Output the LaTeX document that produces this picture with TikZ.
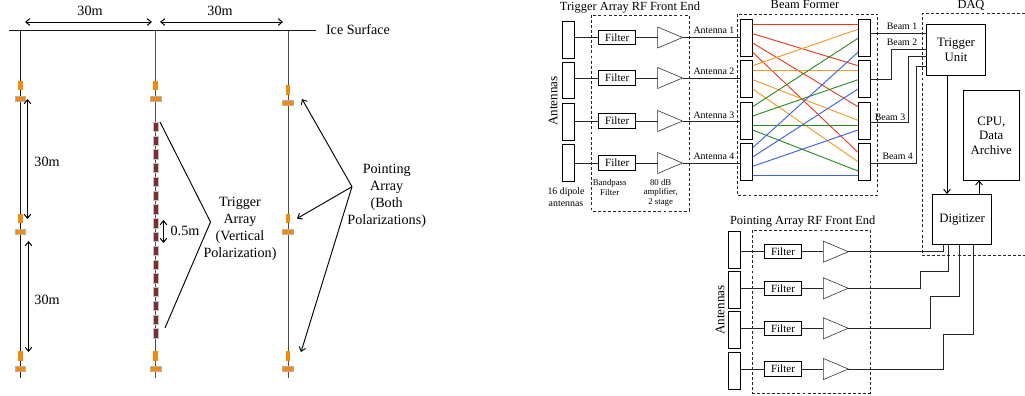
\documentclass[tikz,border=0pt]{standalone}
\usepackage{fontspec}
\setmainfont{Liberation Serif}
\usetikzlibrary{arrows.meta,shapes.geometric}
\definecolor{orangeant}{HTML}{F28A0C}
\definecolor{maroonant}{HTML}{7A2E2E}
\definecolor{bred}{HTML}{F03A1E}
\definecolor{borange}{HTML}{F59A2A}
\definecolor{bgreen}{HTML}{2E8B22}
\definecolor{bblue}{HTML}{3A62E8}
\tikzset{
  x=0.75pt,y=-0.75pt,
  wire/.style={line width=0.7pt,black!85},
  stringline/.style={line width=0.75pt,black!70},
  dim/.style={line width=0.75pt,black,{Straight Barb[length=3pt,width=5pt]}-{Straight Barb[length=3pt,width=5pt]}},
  onearrow/.style={line width=0.7pt,black,-{Straight Barb[length=3pt,width=5pt]}},
  vant/.style={fill=orangeant,inner sep=0,minimum width=3.6pt,minimum height=7pt,draw=none},
  hant/.style={fill=orangeant,inner sep=0,minimum width=8pt,minimum height=4pt,draw=black!30,line width=.3pt},
  trigant/.style={fill=maroonant,inner sep=0,minimum width=3.8pt,minimum height=7pt,draw=black!25,line width=.3pt},
  lab/.style={inner sep=0,align=center,font=\fontsize{10.6}{12.7}\selectfont},
  ttl/.style={inner sep=0,align=center,font=\fontsize{9.3}{11}\selectfont},
  slab/.style={inner sep=0,align=center,font=\fontsize{6.6}{7.2}\selectfont},
  mlab/.style={inner sep=0,align=center,font=\fontsize{7.4}{8.6}\selectfont},
  tall/.style={draw=black,line width=0.7pt,inner sep=0,outer sep=0,minimum width=9pt,minimum height=27.4pt},
  filt/.style={draw=black,line width=0.7pt,inner sep=0,outer sep=0,minimum width=27.4pt,minimum height=10.6pt,font=\fontsize{8.3}{9}\selectfont},
  amp/.style={draw=black!80,line width=0.45pt,isosceles triangle,isosceles triangle stretches,shape border rotate=0,inner sep=0,outer sep=0,minimum height=18.7pt,minimum width=15.8pt,anchor=apex},
  block/.style={draw=black,line width=0.7pt,inner sep=0,outer sep=0,align=center,font=\fontsize{9.6}{11}\selectfont},
  dbox/.style={draw=black!85,line width=0.7pt,dash pattern=on 2.2pt off 1.6pt},
}
\begin{document}
\begin{tikzpicture}
\useasboundingbox[fill=white] (0,0) rectangle (1025,396);
% ---- left panel
\coordinate (iceL) at (9,30.5); \coordinate (iceR) at (316,30.5);
\coordinate (s1t) at (20.5,30.5); \coordinate (s1b) at (20.5,378);
\coordinate (s2t) at (155.5,30.5); \coordinate (s2b) at (155.5,378);
\coordinate (s3t) at (288.5,30.5); \coordinate (s3b) at (288.5,378);
\draw[line width=.75pt,black!90] (iceL) -- (iceR);
\draw[line width=.75pt,black!90] (s1t) -- (s1b);
\draw[stringline] (s2t) -- (s2b);
\draw[stringline] (s3t) -- (s3b);
\node[lab] (ice) at (358,30) {Ice Surface};
\foreach \n/\vy/\hy in {a/85.5/99,b/218.5/232,c/356/369}{
  \node[vant] (l\n v) at (20.3,\vy) {};
  \node[hant] (l\n h) at (20.3,\hy) {};
}
\foreach \n/\vy/\hy in {a/85.5/99,c/356/369}{
  \node[vant] (m\n v) at (155.7,\vy) {};
  \node[hant] (m\n h) at (155.7,\hy) {};
}
\node[vant] (raV) at (288,90) {}; \node[hant] (raH) at (288,103) {};
\node[vant] (rbV) at (288,218.7) {}; \node[hant] (rbH) at (288,232) {};
\node[vant] (rcV) at (288,356) {}; \node[hant] (rcH) at (288,369) {};
\foreach \i in {0,...,15}{
  \node[trigant] (t\i) at (155.7,126.7+13.77*\i) {};
}
\coordinate (d1a) at (25,22); \coordinate (d1b) at (152,22);
\coordinate (d2a) at (160,22); \coordinate (d2b) at (283,22);
\draw[dim] (d1a) -- (d1b);
\draw[dim] (d2a) -- (d2b);
\node[lab] (w1) at (90,11) {30m};
\node[lab] (w2) at (220,11) {30m};
\coordinate (d3a) at (27.5,99); \coordinate (d3b) at (27.5,219);
\coordinate (d4a) at (28.5,241); \coordinate (d4b) at (28.5,352);
\draw[dim] (d3a) -- (d3b);
\draw[dim] (d4a) -- (d4b);
\node[lab] (h1) at (47,162) {30m};
\node[lab] (h2) at (47,300) {30m};
\coordinate (d5a) at (163.5,220); \coordinate (d5b) at (163.5,243);
\draw[dim] (d5a) -- (d5b);
\node[lab] (sp) at (185,231) {0.5m};
\coordinate (wA) at (160,122); \coordinate (wB) at (210.5,222); \coordinate (wC) at (165,328);
\draw[line width=.7pt] (wA) -- (wB) -- (wC);
\node[lab] (trig) at (240,228.5) {Trigger\\Array\\(Vertical\\Polarization)};
\coordinate (pA) at (352,186.7);
\coordinate (p1) at (302,99); \coordinate (p2) at (297,218.5); \coordinate (p3) at (301,352);
\draw[onearrow] (pA) -- (p1);
\draw[onearrow] (pA) -- (p2);
\draw[onearrow] (pA) -- (p3);
\node[lab] (point) at (386.7,196) {Pointing\\Array\\(Both\\Polarizations)};
% ---- trigger array front end
\draw[dbox] (591,15) rectangle (689,211);
\draw[dbox] (737,14) rectangle (877.7,195);
\node[ttl] (ttl1) at (630,8) {Trigger Array RF Front End};
\node[ttl] (ttl2) at (805,5) {Beam Former};
\node[ttl,font=\fontsize{9.8}{11}\selectfont,rotate=90] (antT) at (553,101) {Antennas};
\node[mlab] (dip) at (566,197) {16 dipole\\antennas};
\node[slab] (bp) at (609.7,187.5) {Bandpass\\Filter};
\node[slab] (ampl) at (660.7,192.5) {80 dB\\amplifier,\\2 stage};
\foreach \i/\y/\ty/\ly/\bt in {1/39.7/37.5/30/38,2/80.5/78/71/79,3/121.8/121/115/120.8,4/162.8/163/156/162}{
  \node[tall] (a\i) at (568.7,\y) {};
  \node[filt] (f\i) at (617.2,\ty) {Filter};
  \node[amp] (g\i) at (682.5,\ty) {};
  \node[tall] (bl\i) at (746.7,\bt) {};
  \node[tall] (br\i) at (864,\bt) {};
  \draw[wire] (a\i.east |- f\i.west) -- (f\i.west);
  \draw[wire] (f\i.east) -- (g\i.lower side);
  \draw[wire] (g\i.apex) -- (bl\i.west |- g\i.apex);
  \node[mlab] (lb\i) at (714,\ly) {Antenna \i};
}
% ---- beam former crossings
\foreach \l/\ya/\r/\yb/\c in {
 1/24.3/1/24.3/bred,1/33.7/2/65.7/bred,1/43/3/106.7/bred,1/52.3/4/152.3/bred,
 2/65.7/1/29.3/borange,2/70.3/2/70.3/borange,2/79.7/3/120.3/borange,2/89/4/161.7/borange,
 3/106.7/1/38.3/bgreen,3/116/2/79.7/bgreen,3/125.3/3/125.3/bgreen,3/130/4/171/bgreen,
 4/147.7/1/52.3/bblue,4/157/2/89/bblue,4/166.3/3/130/bblue,4/175.7/4/175.7/bblue}{
  \draw[line width=.7pt,\c] (bl\l.east |- 0,\ya) -- (br\r.west |- 0,\yb);
}
% ---- DAQ
\coordinate (daqA) at (1025,13); \coordinate (daqB) at (922.3,13);
\coordinate (daqC) at (922.3,255); \coordinate (daqD) at (1025,255);
\draw[dbox] (daqA) -- (daqB) -- (daqC) -- (daqD);
\node[ttl] (daq) at (971,5) {DAQ};
\node[block,minimum width=44pt,minimum height=37.7pt] (tu) at (956,49.85) {Trigger\\Unit};
\node[block,minimum width=42.5pt,minimum height=67pt] (cpu) at (991.3,135.6) {CPU,\\Data\\Archive};
\node[block,minimum width=44pt,minimum height=38pt] (dig) at (962,219.3) {Digitizer};
\draw[onearrow] (tu.south -| 947,0) -- (dig.north -| 947,0);
\draw[onearrow] (dig.north -| 979,0) -- (cpu.south -| 979,0);
\draw[wire] (br1.east |- 0,33.3) -- (tu.west |- 0,33.3);
\draw[wire] (br2.east |- 0,79.3) -- (891,79.3) -- (891,49.3) -- (tu.west |- 0,49.3);
\draw[wire] (br3.east |- 0,122.3) -- (908.7,122.3) -- (908.7,56.3) -- (tu.west |- 0,56.3);
\draw[wire] (br4.east |- 0,163.3) -- (916,163.3) -- (916,66) -- (tu.west |- 0,66);
\node[mlab] (bm1) at (902,26) {Beam 1};
\node[mlab] (bm2) at (902,42) {Beam 2};
\node[mlab] (bm3) at (890,117) {Beam 3};
\node[mlab] (bm4) at (897.7,156) {Beam 4};
% ---- pointing array front end
\draw[dbox] (752.7,230) rectangle (870.3,393);
\node[ttl] (ttl3) at (802.7,222) {Pointing Array RF Front End};
\node[ttl,font=\fontsize{9.8}{11}\selectfont,rotate=90] (antP) at (720,310) {Antennas};
\foreach \i/\y/\ty in {1/250/251.7,2/289.7/288.3,3/329.8/328.3,4/370.8/369}{
  \node[tall] (pa\i) at (734.7,\y) {};
  \node[filt] (pf\i) at (783,\ty) {Filter};
  \node[amp] (pg\i) at (848.3,\ty) {};
  \draw[wire] (pa\i.east |- pf\i.west) -- (pf\i.west);
  \draw[wire] (pf\i.east) -- (pg\i.lower side);
}
\draw[wire] (pg1.apex) -- (943,251.7) -- (dig.south -| 943,0);
\draw[wire] (pg2.apex) -- (920.3,288.3) -- (920.3,271.7) -- (948,271.7) -- (dig.south -| 948,0);
\draw[wire] (pg3.apex) -- (930.7,328.3) -- (930.7,296) -- (959.3,296) -- (dig.south -| 959.3,0);
\draw[wire] (pg4.apex) -- (943,369) -- (943,334.3) -- (973.3,334.3) -- (dig.south -| 973.3,0);
\end{tikzpicture}
\end{document}
